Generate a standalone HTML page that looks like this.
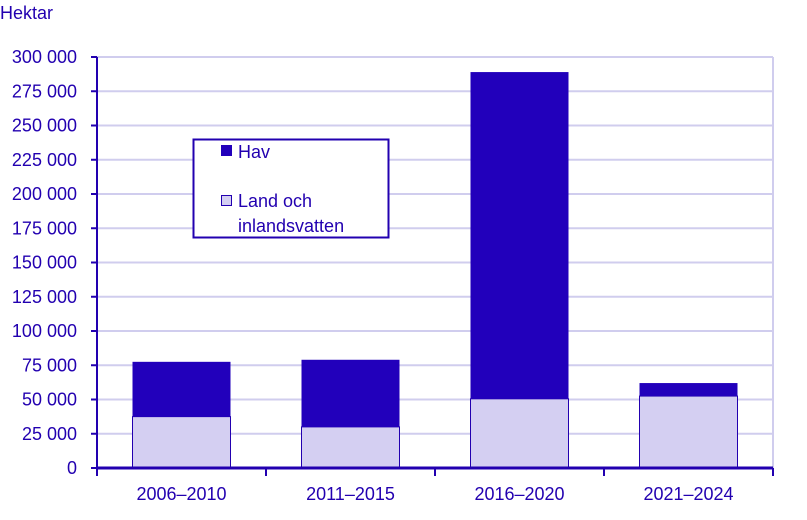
<!DOCTYPE html>
<html><head><meta charset="utf-8"><style>
body{margin:0;background:#fff}
svg{display:block;font-family:"Liberation Sans",sans-serif}
</style></head><body>
<svg id="chart" width="807" height="520">
<text x="0" y="19" font-size="18" fill="#2200b0">Hektar</text>
<g id="grid"></g><g id="bars"></g><g id="axes"></g>
<g>
<rect x="193.5" y="139.5" width="195" height="98" fill="#fff" stroke="#2200b0" stroke-width="2"/>
<rect x="221" y="145" width="11" height="11" fill="#2200bb"/>
<text x="238" y="158" font-size="18" fill="#2200b0">Hav</text>
<rect x="221.5" y="195.5" width="10" height="10" fill="#d4cff2" stroke="#2200b0" stroke-width="1"/>
<text x="238" y="207" font-size="18" fill="#2200b0">Land och</text>
<text x="238" y="232" font-size="18" fill="#2200b0">inlandsvatten</text>
</g>
</svg>
<script>
const categories=["2006–2010","2011–2015","2016–2020","2021–2024"];
const land=[37500,30000,50500,52500];
const hav=[40000,49000,238500,9500];
const yTicks=[0,25000,50000,75000,100000,125000,150000,175000,200000,225000,250000,275000,300000];
const NS="http://www.w3.org/2000/svg";
const x0=97,x1=773,y0=468,y1=57,ymax=300000;
const y=v=>y0-(v/ymax)*(y0-y1);
const bw=(x1-x0)/categories.length;
const xc=i=>x0+bw*(i+0.5);
function mk(p,t,a){const e=document.createElementNS(NS,t);for(const k in a)e.setAttribute(k,a[k]);p.appendChild(e);return e;}
const grid=document.getElementById('grid'),bars=document.getElementById('bars'),axes=document.getElementById('axes');
const fmt=v=>v===0?"0":String(v).replace(/\B(?=(\d{3})+(?!\d))/g," ");
yTicks.forEach(t=>{
  if(t>0){const g=mk(grid,'line',{x1:x0,x2:x1,y1:y(t),y2:y(t),stroke:'#d0cdee','stroke-width':2});
  
  }
  const tk=mk(axes,'line',{x1:x0-6,x2:x0,y1:y(t),y2:y(t),stroke:'#2200b0','stroke-width':2});
  
  
  const tx=mk(axes,'text',{x:x0-20,y:y(t)+6,'text-anchor':'end','font-size':18,fill:'#2200b0'});
  tx.textContent=fmt(t);
  
  
});
mk(grid,'line',{x1:x1,x2:x1,y1:y1,y2:y0,stroke:'#d0cdee','stroke-width':2});
categories.forEach((c,i)=>{
  const w=98,bx=xc(i)-w/2;
  const r1=mk(bars,'rect',{x:bx,y:y(land[i]),width:w,height:y0-y(land[i]),fill:'#d4cff2',stroke:'#2200b0','stroke-width':1});
  
  
  const r2=mk(bars,'rect',{x:bx,y:y(land[i]+hav[i]),width:w,height:y(land[i])-y(land[i]+hav[i]),fill:'#2200bb'});
  
  
  const tx=mk(axes,'text',{x:xc(i),y:500,'text-anchor':'middle','font-size':18,fill:'#2200b0'});
  tx.textContent=c;
  
  
});
for(let i=0;i<=categories.length;i++){
  const tk=mk(axes,'line',{x1:x0+bw*i,x2:x0+bw*i,y1:y0,y2:y0+8,stroke:'#2200b0','stroke-width':2});
  
  
}
const ya=mk(axes,'line',{x1:x0,x2:x0,y1:y1,y2:y0,stroke:'#2200b0','stroke-width':2});


const xa=mk(axes,'line',{x1:x0,x2:x1,y1:y0,y2:y0,stroke:'#2200b0','stroke-width':3});


</script>
</body></html>
